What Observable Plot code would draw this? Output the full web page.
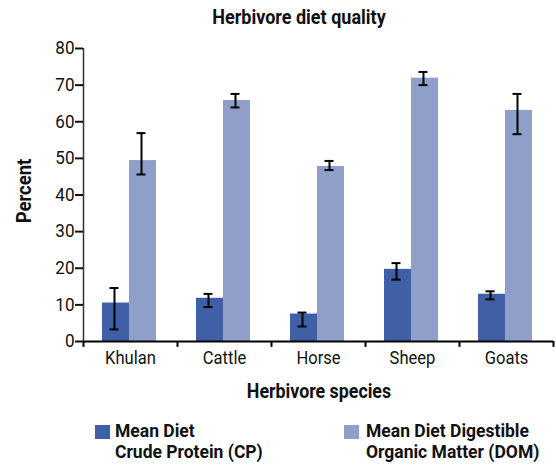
<!DOCTYPE html>
<html><head><meta charset="utf-8">
<script src="https://cdn.jsdelivr.net/npm/d3@7"></script>
<script src="https://cdn.jsdelivr.net/npm/@observablehq/plot@0.6"></script>
<style>
body{margin:0;background:#fff;}
#wrap{position:relative;width:556px;height:472px;overflow:hidden;font-family:"Liberation Sans Narrow",Roboto,sans-serif;color:#111;}
.lbl{position:absolute;font-weight:bold;white-space:nowrap;}
.sw{position:absolute;width:15px;height:14px;}
</style></head><body>
<div id="wrap"></div>
<script>
const species = ["Khulan","Cattle","Horse","Sheep","Goats"];
const cpMean = [10.5, 11.8, 7.5, 19.7, 12.9];
const cpLow  = [3.3, 9.4, 4.1, 16.9, 11.5];
const cpHigh = [14.6, 13.0, 7.9, 21.4, 13.7];
const domMean = [49.4, 65.8, 47.8, 71.9, 63.1];
const domLow  = [45.6, 63.9, 46.8, 70.0, 56.6];
const domHigh = [56.9, 67.6, 49.3, 73.6, 67.6];
const yTicks = [0,10,20,30,40,50,60,70,80];
const cpColor = "#3f5fa6", domColor = "#909fca";

const data = species.map((s,i)=>({species:s, cp:cpMean[i], cpLo:cpLow[i], cpHi:cpHigh[i], dom:domMean[i], domLo:domLow[i], domHi:domHigh[i]}));
const font = '"Liberation Sans Narrow",Roboto,sans-serif';

const chart = Plot.plot({
  width:556, height:472,
  marginLeft:83, marginRight:3, marginTop:48, marginBottom:131,
  style:{fontFamily:font, fontSize:"18px", color:"#111", background:"transparent"},
  x:{domain:species, padding:0, label:null},
  y:{domain:[0,80], label:null},
  marks:[
    Plot.barY(data,{x:"species", y:"cp", fill:cpColor, insetLeft:19, insetRight:48}),
    Plot.barY(data,{x:"species", y:"dom", fill:domColor, insetLeft:46, insetRight:21}),
    Plot.ruleX(data,{x:"species", y1:"cpLo", y2:"cpHi", dx:-16, stroke:"#000", strokeWidth:2}),
    Plot.ruleX(data,{x:"species", y1:"domLo", y2:"domHi", dx:11, stroke:"#000", strokeWidth:2}),
    Plot.tickY(data,{x:"species", y:"cpLo", insetLeft:26.5, insetRight:58.5, stroke:"#000", strokeWidth:2}),
    Plot.tickY(data,{x:"species", y:"cpHi", insetLeft:26.5, insetRight:58.5, stroke:"#000", strokeWidth:2}),
    Plot.tickY(data,{x:"species", y:"domLo", insetLeft:53.5, insetRight:31.5, stroke:"#000", strokeWidth:2}),
    Plot.tickY(data,{x:"species", y:"domHi", insetLeft:53.5, insetRight:31.5, stroke:"#000", strokeWidth:2}),
    Plot.ruleY([0],{stroke:"#000", strokeWidth:2}),
    Plot.ruleX(species,{x:d=>d, y1:0, y2:80, dx:-47, filter:(d,i)=>i===0, stroke:"#333", strokeWidth:1.5}),
    Plot.ruleX(species,{x:d=>d, y1:0, y2:-1.6, dx:-47, stroke:"#000", strokeWidth:2}),
    Plot.ruleX(species,{x:d=>d, y1:0, y2:-1.6, dx:47, filter:(d,i)=>i===species.length-1, stroke:"#000", strokeWidth:2}),
    Plot.axisY({ticks:yTicks, tickSize:8, tickPadding:1, tickFormat:d=>String(d), fontSize:18, strokeWidth:2, label:null}),
    Plot.axisX({tickSize:0, tickPadding:10, fontSize:18, label:null})
  ]
});
const wrap = document.getElementById("wrap");
wrap.appendChild(chart);
chart.querySelectorAll('g[aria-label="y-axis tick label"] text').forEach(t=>{
  t.setAttribute("transform", (t.getAttribute("transform") || "") + " scale(0.95,1)");
});
chart.querySelectorAll('g[aria-label="x-axis tick label"] text').forEach(t=>{
  t.setAttribute("transform", (t.getAttribute("transform") || "") + " scale(0.92,1)");
});

function add(html, style, cls="lbl"){const d=document.createElement("div");d.className=cls;d.innerHTML=html;Object.assign(d.style,style);wrap.appendChild(d);return d;}
add("Herbivore diet quality",{left:"0",width:"598px",textAlign:"center",top:"5px",fontSize:"20px",transform:"scaleX(0.9)",transformOrigin:"299px 0"});
add("Herbivore species",{left:"0",width:"638px",textAlign:"center",top:"379px",fontSize:"20px",transform:"scaleX(0.89)",transformOrigin:"319px 0"});
add("Percent",{left:"-16px",top:"178px",width:"80px",textAlign:"center",fontSize:"21px",lineHeight:"26px",transform:"rotate(-90deg) scaleX(0.88)"});
add("",{left:"95px",top:"425px",background:cpColor},"sw");
add("",{left:"344px",top:"425px",background:domColor},"sw");
add("Mean Diet<br>Crude Protein (CP)",{left:"115px",top:"421px",fontSize:"17.5px",lineHeight:"20.5px"});
add("Mean Diet Digestible<br>Organic Matter (DOM)",{left:"366px",top:"421px",fontSize:"17.5px",lineHeight:"20.5px"});
</script>
</body></html>
